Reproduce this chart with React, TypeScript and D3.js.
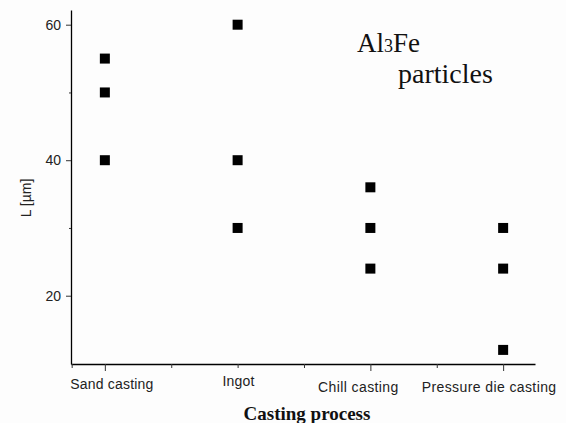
import React, { useEffect, useRef } from 'react';
import * as d3 from 'd3';

const categories = ['Sand casting', 'Ingot', 'Chill casting', 'Pressure die casting'];
const sandValues = [55, 50, 40];
const ingotValues = [60, 40, 30];
const chillValues = [36, 30, 24];
const pressureValues = [30, 24, 12];
const yTicks = [20, 40, 60];
const yMinorTicks = [30, 50];

// label nudges so the category names sit like in the original figure
const labelDx = [7, 1, -12, -14];
const labelDy = [25, 22, 28, 28];

export default function App() {
  const svgRef = useRef<SVGSVGElement>(null);

  const width = 566;
  const height = 423;
  const left = 71;
  const right = 535;
  const top = 10;
  const bottom = 364;

  useEffect(() => {
    const svg = d3.select(svgRef.current);
    svg.selectAll('*').remove();

    svg.append('rect')
      .attr('width', width)
      .attr('height', height)
      .attr('fill', '#fdfdfd');

    const x = d3.scaleLinear().domain([0.745, 4.24]).range([left, right]);
    const y = d3.scaleLinear().domain([9.92, 62.17]).range([bottom, top]);

    // y axis
    const yAxisG = svg.append('g')
      .attr('transform', `translate(${left},0)`)
      .call(d3.axisLeft(y).tickValues(yTicks).tickSize(5).tickPadding(5).tickSizeOuter(0));
    yAxisG.select('.domain').attr('stroke', '#000').attr('stroke-width', 1.3);
    yAxisG.selectAll('.tick line').attr('stroke', '#333');
    yAxisG.selectAll('.tick text')
      .attr('font-family', 'Liberation Sans, Arial, sans-serif')
      .attr('font-size', 14)
      .attr('fill', '#222');

    svg.append('g')
      .attr('transform', `translate(${left},0)`)
      .call(d3.axisLeft(y).tickValues(yMinorTicks).tickSize(2).tickFormat(() => '').tickSizeOuter(0))
      .call(g => g.select('.domain').remove())
      .selectAll('.tick line').attr('stroke', '#333');

    // x axis
    const between = d3.range(1.5, 4.5, 1);
    const xAxisG = svg.append('g')
      .attr('transform', `translate(0,${bottom})`)
      .call(d3.axisBottom(x).tickValues([0.75, ...between]).tickSize(4).tickFormat(() => '').tickSizeOuter(0));
    xAxisG.select('.domain').attr('stroke', '#000').attr('stroke-width', 1.3);
    xAxisG.selectAll('.tick line').attr('stroke', '#333');

    svg.append('g')
      .attr('transform', `translate(0,${bottom})`)
      .call(d3.axisBottom(x).tickValues([1, 3, 4]).tickSize(7).tickFormat(() => '').tickSizeOuter(0))
      .call(g => g.select('.domain').remove())
      .selectAll('.tick line').attr('stroke', '#333');

    svg.append('g')
      .attr('transform', `translate(0,${bottom})`)
      .call(d3.axisBottom(x).tickValues([2]).tickSize(4).tickFormat(() => '').tickSizeOuter(0))
      .call(g => g.select('.domain').remove())
      .selectAll('.tick line').attr('stroke', '#333');

    svg.append('g')
      .selectAll('text')
      .data(categories)
      .enter()
      .append('text')
      .attr('x', (d, i) => x(i + 1) + labelDx[i])
      .attr('y', (d, i) => bottom + labelDy[i])
      .attr('text-anchor', 'middle')
      .attr('font-family', 'Liberation Sans, Arial, sans-serif')
      .attr('font-size', 14)
      .attr('letter-spacing', (d, i) => (i >= 2 ? 0.4 : 0.2))
      .attr('fill', '#222')
      .text(d => d);

    // points
    const series = [sandValues, ingotValues, chillValues, pressureValues];
    const points = series.flatMap((vals, i) => vals.map(v => ({ c: i + 1, v })));
    const size = 10;
    svg.append('g')
      .selectAll('rect')
      .data(points)
      .enter()
      .append('rect')
      .attr('x', d => x(d.c) - size / 2)
      .attr('y', d => y(d.v) - size / 2)
      .attr('width', size)
      .attr('height', size)
      .attr('fill', '#000');

    // axis titles
    svg.append('text')
      .attr('transform', 'translate(31,198) rotate(-90)')
      .attr('text-anchor', 'middle')
      .attr('font-family', 'Liberation Sans, Arial, sans-serif')
      .attr('font-size', 14)
      .attr('fill', '#222')
      .text('L [\u00b5m]');

    svg.append('text')
      .attr('x', 307)
      .attr('y', 420)
      .attr('text-anchor', 'middle')
      .attr('font-family', 'Liberation Serif, Times New Roman, serif')
      .attr('font-weight', 'bold')
      .attr('font-size', 19)
      .attr('fill', '#111')
      .text('Casting process');

    // annotation
    const note = svg.append('text')
      .attr('x', 357)
      .attr('y', 52)
      .attr('font-family', 'Liberation Serif, Times New Roman, serif')
      .attr('font-size', 27)
      .attr('fill', '#111');
    note.append('tspan').text('Al');
    note.append('tspan').attr('font-size', 18).text('3');
    note.append('tspan').text('Fe');

    svg.append('text')
      .attr('x', 398)
      .attr('y', 83)
      .attr('font-family', 'Liberation Serif, Times New Roman, serif')
      .attr('font-size', 28)
      .attr('fill', '#111')
      .text('particles');
  }, []);

  return (
    <svg
      ref={svgRef}
      width={width}
      height={height}
      style={{ position: 'absolute', left: 0, top: 0 }}
    ></svg>
  );
}
